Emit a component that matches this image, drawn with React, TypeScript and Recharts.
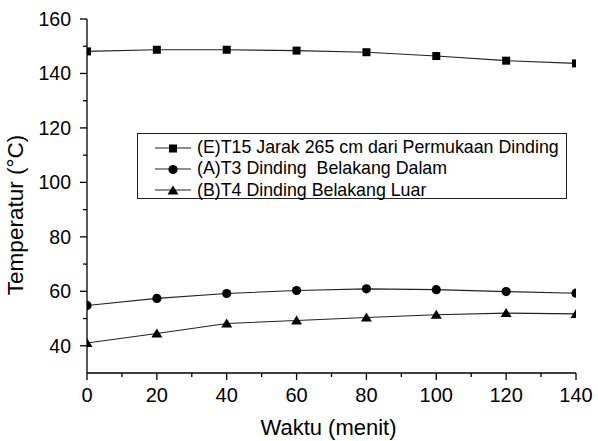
import { LineChart, Line, XAxis, YAxis, Legend, Label } from 'recharts';

const FONT = '"Liberation Sans", Arial, sans-serif';

// time axis (menit)
const minutes = [0, 20, 40, 60, 80, 100, 120, 140];
const xTicks = [0, 10, 20, 30, 40, 50, 60, 70, 80, 90, 100, 110, 120, 130, 140];
const yTicks = [40, 50, 60, 70, 80, 90, 100, 110, 120, 130, 140, 150, 160];

// temperatures (°C)
const tempE = [148.1, 148.7, 148.7, 148.4, 147.8, 146.4, 144.7, 143.7];
const tempA = [54.8, 57.4, 59.2, 60.3, 60.9, 60.6, 59.9, 59.3];
const tempB = [41.0, 44.5, 48.2, 49.3, 50.4, 51.4, 52.0, 51.7];

const seriesNames = [
  '(E)T15 Jarak 265 cm dari Permukaan Dinding',
  '(A)T3 Dinding  Belakang Dalam',
  '(B)T4 Dinding Belakang Luar',
];

const data = minutes.map((t, i) => ({ t, E: tempE[i], A: tempA[i], B: tempB[i] }));

type Shape = 'square' | 'circle' | 'triangle';

function Marker({ cx, cy, shape }: { cx: number; cy: number; shape: Shape }) {
  if (shape === 'square') return <rect x={cx - 4} y={cy - 4} width={8} height={8} fill="#000" />;
  if (shape === 'circle') return <circle cx={cx} cy={cy} r={4.6} fill="#000" />;
  return <path d={`M${cx},${cy - 5} L${cx + 5.5},${cy + 4} L${cx - 5.5},${cy + 4} Z`} fill="#000" />;
}

const series: { key: string; name: string; shape: Shape }[] = [
  { key: 'E', name: seriesNames[0], shape: 'square' },
  { key: 'A', name: seriesNames[1], shape: 'circle' },
  { key: 'B', name: seriesNames[2], shape: 'triangle' },
];

function XTick(props: any) {
  const { x, y, payload } = props;
  const major = payload.value % 20 === 0;
  return (
    <g>
      <line x1={x} y1={y} x2={x} y2={y + (major ? 7 : 4)} stroke="#000" strokeWidth={1.3} />
      {major && (
        <text x={x} y={y + 29} textAnchor="middle" fontSize={20} fontFamily={FONT} fill="#000">
          {payload.value}
        </text>
      )}
    </g>
  );
}

function YTick(props: any) {
  const { x, y, payload } = props;
  const major = payload.value % 20 === 0;
  return (
    <g>
      <line x1={x - (major ? 7 : 4)} y1={y} x2={x} y2={y} stroke="#000" strokeWidth={1.3} />
      {major && (
        <text x={x - 16} y={y + 7} textAnchor="end" fontSize={19.5} fontFamily={FONT} fill="#000">
          {payload.value}
        </text>
      )}
    </g>
  );
}

function XTitle(props: any) {
  const vb = props.viewBox || { x: 87, y: 373, width: 489, height: 68 };
  return (
    <text x={vb.x + vb.width / 2 - 3} y={vb.y + vb.height - 6} textAnchor="middle" fontSize={22} fontFamily={FONT} fill="#000">
      Waktu (menit)
    </text>
  );
}

function YTitle(props: any) {
  const vb = props.viewBox || { x: 0, y: 19, width: 87, height: 354 };
  const cx = vb.x + 23;
  const cy = vb.y + vb.height / 2 + 19;
  return (
    <text x={cx} y={cy} transform={`rotate(-90, ${cx}, ${cy})`} textAnchor="middle" fontSize={22.5} fontFamily={FONT} fill="#000">
      Temperatur (°C)
    </text>
  );
}

function LegendBox() {
  return (
    <div
      style={{
        border: '1px solid #222',
        width: 430,
        height: 66,
        boxSizing: 'border-box',
        padding: '3px 0 0 17px',
        fontFamily: FONT,
        fontSize: 17.8,
        color: '#000',
        background: '#fff',
        textAlign: 'left',
      }}
    >
      {series.map((s) => (
        <div key={s.key} style={{ display: 'flex', alignItems: 'center', height: 21.3 }}>
          <svg width={36} height={12} style={{ flex: 'none' }}>
            <line x1={0} y1={6} x2={36} y2={6} stroke="#222" strokeWidth={1.1} />
            <Marker cx={18} cy={6.5} shape={s.shape} />
          </svg>
          <span style={{ marginLeft: 6, whiteSpace: 'pre', lineHeight: '21px' }}>{s.name}</span>
        </div>
      ))}
    </div>
  );
}

export default function App() {
  return (
    <div style={{ width: 598, height: 441, background: '#fff' }}>
      <style>{'body{margin:0}'}</style>
      <LineChart width={598} height={441} data={data} margin={{ top: 19, right: 22, left: 0, bottom: 0 }}>
        <XAxis
          type="number"
          dataKey="t"
          domain={[0, 140]}
          ticks={xTicks}
          interval={0}
          allowDataOverflow
          height={68}
          tickSize={0}
          tickMargin={0}
          tick={<XTick />}
          axisLine={{ stroke: '#000', strokeWidth: 1.3 }}
        >
          <Label content={<XTitle />} />
        </XAxis>
        <YAxis
          type="number"
          domain={[30, 160]}
          ticks={yTicks}
          interval={0}
          allowDataOverflow
          width={87}
          tickSize={0}
          tickMargin={0}
          tick={<YTick />}
          axisLine={{ stroke: '#000', strokeWidth: 1.3 }}
        >
          <Label content={<YTitle />} />
        </YAxis>
        <Legend
          layout="horizontal"
          verticalAlign="middle"
          align="center"
          content={<LegendBox />}
          wrapperStyle={{ left: 137, top: 133, width: 430, height: 66 }}
        />
        {series.map((s) => (
          <Line
            key={s.key}
            dataKey={s.key}
            name={s.name}
            type="linear"
            stroke="#222"
            strokeWidth={1.1}
            isAnimationActive={false}
            dot={(p: any) => <Marker key={`${s.key}-${p.index}`} cx={p.cx} cy={p.cy} shape={s.shape} />}
            activeDot={false}
          />
        ))}
      </LineChart>
    </div>
  );
}
